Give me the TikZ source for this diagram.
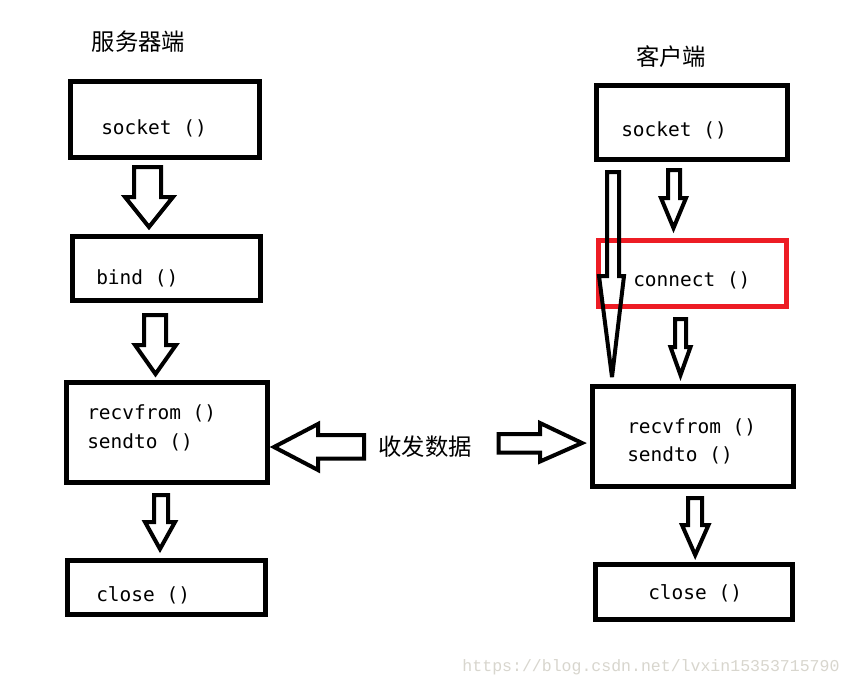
\documentclass[tikz,border=0pt]{standalone}
\usepackage{fontspec}
\setmainfont{DejaVu Sans}
\newfontfamily\monof{DejaVu Sans Mono}
\newfontfamily\cjkf{Noto Sans CJK SC}
\newfontfamily\wmf{Liberation Mono}
\usetikzlibrary{fit}
\definecolor{boxred}{RGB}{237,28,36}
\definecolor{wmgray}{RGB}{216,214,206}
\begin{document}
\begin{tikzpicture}[x=0.75pt,y=-0.75pt,
  box/.style={draw, line width=3.75pt, inner sep=0pt},
  blk/.style={draw, line width=3pt, line join=miter, miter limit=3},
  code/.style={anchor=west, inner sep=0pt, font=\monof\fontsize{14.6pt}{17pt}\selectfont},
  title/.style={inner sep=0pt, font=\cjkf\fontsize{17.5pt}{20pt}\selectfont}]
\useasboundingbox (0,0) rectangle (853,687);
\fill[white] (0,0) rectangle (853,687);

% titles
\node[title] (tserver) at (138.5,42) {服务器端};
\node[title] (tclient) at (671,57) {客户端};
\node[title] (tdata) at (425,447) {收发数据};

% server boxes
\node[box, fit={(70,81) (259,157.5)}] (lsock) {};
\node[box, fit={(72.5,236.5) (260,300.5)}] (lbind) {};
\node[box, fit={(66,382) (267.5,482.5)}] (lrecv) {};
\node[box, fit={(67.5,560) (265.8,614)}] (lclose) {};

% client boxes
\node[box, fit={(596.5,85) (787,159.5)}] (rsock) {};
\node[box, draw=boxred, fit={(598.5,240) (786,306)}] (rconn) {};
\node[box, fit={(592,386) (793.5,486)}] (rrecv) {};
\node[box, fit={(595,564) (792.5,619)}] (rclose) {};

% texts
\node[code] (t1) at (101,128) {socket ()};
\node[code] (t2) at (96,278) {bind ()};
\node[code] (t3) at (87,413) {recvfrom ()};
\node[code] (t4) at (87,442) {sendto ()};
\node[code] (t5) at (96,595) {close ()};
\node[code] (t6) at (621,130) {socket ()};
\node[code] (t7) at (633,280) {connect ()};
\node[code] (t8) at (627,427) {recvfrom ()};
\node[code] (t9) at (627,455) {sendto ()};
\node[code] (t10) at (648,593) {close ()};

% server down arrows
\draw[blk] (134,167) -- (161,167) -- (161,197) -- (173,197) -- (149,227) -- (125,197) -- (134,197) -- cycle;
\draw[blk] (144,315) -- (166,315) -- (166,345) -- (176,345) -- (155.5,374) -- (135,345) -- (144,345) -- cycle;
\draw[blk] (154,495) -- (168,495) -- (168,522) -- (175,522) -- (160,549) -- (145,522) -- (154,522) -- cycle;

% client down arrows
\draw[blk] (668,170) -- (680,170) -- (680,198) -- (686,198) -- (673.5,228) -- (661,198) -- (668,198) -- cycle;
\draw[blk] (675,319) -- (686,319) -- (686,347) -- (690.5,347) -- (680.5,375) -- (670.5,347) -- (675,347) -- cycle;
\draw[blk] (688,498) -- (702,498) -- (702,525) -- (708.5,525) -- (695.2,555) -- (682,525) -- (688,525) -- cycle;
\draw[blk] (607,172) -- (619,172) -- (619,276) -- (624,276) -- (612,377) -- (599,276) -- (607,276) -- cycle;

% horizontal arrows
\draw[blk] (364,435) -- (318,435) -- (318,424) -- (274,447) -- (318,470) -- (318,458.5) -- (364,458.5) -- cycle;
\draw[blk] (498.5,434) -- (540,434) -- (540,423) -- (582,443) -- (540,461.5) -- (540,452.5) -- (498.5,452.5) -- cycle;

% watermark
\node[inner sep=0pt, text=wmgray, font=\wmf\fontsize{12.4pt}{14pt}\selectfont] (wm) at (651,667) {https://blog.csdn.net/lvxin15353715790};
\end{tikzpicture}
\end{document}
